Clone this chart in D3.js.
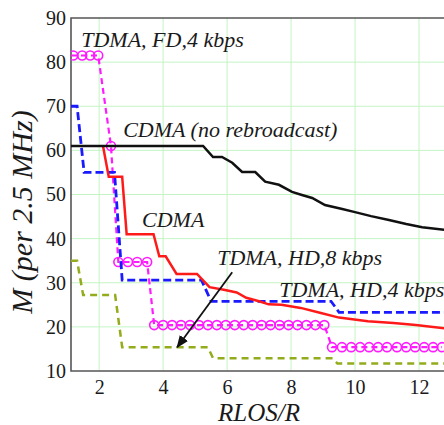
<html>
  <script src='https://d3js.org/d3.v7.min.js'></script>
  <style>
    body {margin: 0; background: white;}
    text {font-family: 'Liberation Serif', 'Times New Roman', serif; fill: #1a1a1a;}
    .lbl {font-style: italic;}
  </style>
  <body>
    <svg class="chart" width=444 height=425></svg>
    <script>
      // values
      var xTicks = [2, 4, 6, 8, 10, 12]
      var yTicks = [10, 20, 30, 40, 50, 60, 70, 80, 90]

      var cdmaNoRebroadcast = [[1.12,61],[5.25,61],[5.56,58.5],[5.84,58.5],[6.16,57.2],[6.47,55.1],[6.88,55.1],
        [7.19,52.9],[7.62,52.2],[8.03,50.6],[8.34,49.9],[8.66,49.2],[9.06,47.6],[9.6,46.7],[10,46],
        [10.5,45.1],[11.06,44.2],[11.6,43.3],[12.1,42.6],[12.8,42]]
      var cdma = [[2.12,61],[2.3,54],[2.72,54],[2.86,41],[3.7,41],[3.88,36],[4.08,36],[4.42,32],[5.06,32],
        [5.45,29],[5.9,28.4],[6.3,27.8],[6.6,26.6],[7.0,25.8],[7.3,25.1],[7.7,25],[8.3,24.3],[8.9,23.2],
        [9.5,22.1],[10.4,21.3],[11.2,20.9],[11.9,20.4],[12.8,19.7]]
      var tdmaHd4 = [[1.12,70],[1.31,70],[1.53,55],[2.48,55],[2.72,30.6],[5.2,30.6],[5.5,25.8],[9.25,25.8],
        [9.5,23.3],[12.8,23.3]]
      var tdmaHd8 = [[1.12,35],[1.31,35],[1.5,27.2],[2.5,27.2],[2.72,15.4],[5.4,15.4],[5.56,12.9],[9.3,12.9],
        [9.45,11.7],[12.8,11.7]]
      var tdmaFd4 = [[1.12,81.5],[1.19,81.5],[1.47,81.5],[1.72,81.5],[1.97,81.5],[2.37,61],[2.6,34.7],[2.9,34.7],
        [3.19,34.7],[3.5,34.7],[3.72,20.4],[4.0,20.4],[4.28,20.4],[4.56,20.4],[4.84,20.4],[5.12,20.4],
        [5.4,20.4],[5.68,20.4],[5.96,20.4],[6.24,20.4],[6.52,20.4],[6.8,20.4],[7.08,20.4],[7.36,20.4],
        [7.64,20.4],[7.92,20.4],[8.2,20.4],[8.48,20.4],[8.76,20.4],[9.04,20.4],[9.28,15.4],[9.59,15.4],
        [9.88,15.4],[10.16,15.4],[10.44,15.4],[10.72,15.4],[11.0,15.4],[11.31,15.4],[11.6,15.4],
        [11.88,15.4],[12.16,15.4],[12.44,15.4],[12.72,15.4]]

      var labels = [
        {text: "TDMA, FD,4 kbps", x: 1.44, y: 83.4},
        {text: "CDMA (no rebroadcast)", x: 2.75, y: 63.0},
        {text: "CDMA", x: 3.34, y: 42.6},
        {text: "TDMA, HD,8 kbps", x: 5.69, y: 34.0},
        {text: "TDMA, HD,4 kbps", x: 7.63, y: 26.8}
      ]
      var arrow = [[6.16,32.4],[4.44,15.4]]

      var plotLeft = 71, plotTop = 18, plotBottom = 371
      var serif = "'Liberation Serif', 'Times New Roman', serif"

      var x = d3.scaleLinear().domain([1.12, 13]).range([plotLeft, 451])
      var y = d3.scaleLinear().domain([10, 90]).range([plotBottom, plotTop])

      var svg = d3.select('.chart')

      svg.append("defs").append("clipPath").attr("id", "clip")
        .append("rect").attr("x", plotLeft).attr("y", plotTop)
        .attr("width", 444 - plotLeft).attr("height", plotBottom - plotTop)

      svg.append("defs").append("marker")
        .attr("id", "head").attr("viewBox", "0 0 10 10").attr("refX", 9).attr("refY", 5)
        .attr("markerWidth", 7).attr("markerHeight", 7).attr("orient", "auto")
        .append("path").attr("d", "M0,1 L10,5 L0,9 z").attr("fill", "#111")

      // grid
      svg.append("g").selectAll("line").data(xTicks).enter().append("line")
        .attr("x1", function(d) {return x(d)}).attr("x2", function(d) {return x(d)})
        .attr("y1", plotTop).attr("y2", plotBottom)
        .attr("stroke", "#c4f4c4").attr("stroke-width", 1)
      svg.append("g").selectAll("line").data(yTicks.slice(1, -1)).enter().append("line")
        .attr("y1", function(d) {return y(d)}).attr("y2", function(d) {return y(d)})
        .attr("x1", plotLeft).attr("x2", 444)
        .attr("stroke", "#c4f4c4").attr("stroke-width", 1)

      // axes
      var xAxis = d3.axisBottom(x).tickValues(xTicks).tickSize(0).tickPadding(9)
      var gx = svg.append("g").attr("transform", "translate(0," + plotBottom + ")").call(xAxis)
        .attr("font-family", serif).attr("font-size", 20)
      gx.select(".domain").remove()
      gx.selectAll("text").attr("fill", "#1a1a1a")

      var yAxis = d3.axisLeft(y).tickValues(yTicks).tickSize(0).tickPadding(5)
      var gy = svg.append("g").attr("transform", "translate(" + plotLeft + ",0)").call(yAxis)
        .attr("font-family", serif).attr("font-size", 20)
      gy.select(".domain").remove()
      gy.selectAll("text").attr("fill", "#1a1a1a")

      svg.append("path")
        .attr("d", "M444," + plotTop + "H" + plotLeft + "V" + plotBottom + "H444")
        .attr("fill", "none").attr("stroke", "#555").attr("stroke-width", 1.6)

      var line = d3.line().x(function(d) {return x(d[0])}).y(function(d) {return y(d[1])})
      var plot = svg.append("g").attr("clip-path", "url(#clip)")

      plot.append("path").datum(tdmaHd8).attr("d", line).attr("fill", "none")
        .attr("stroke", "#92ac1c").attr("stroke-width", 2.5).attr("stroke-dasharray", "7,5")
      plot.append("path").datum(tdmaFd4).attr("d", line).attr("fill", "none")
        .attr("stroke", "#ff1aff").attr("stroke-width", 2.2).attr("stroke-dasharray", "6,4")
      plot.selectAll("circle").data(tdmaFd4.slice(1)).enter().append("circle")
        .attr("cx", function(d) {return x(d[0])}).attr("cy", function(d) {return y(d[1])})
        .attr("r", 4.5).attr("fill", "none").attr("stroke", "#ff1aff").attr("stroke-width", 1.6)
      plot.append("path").datum(tdmaHd4).attr("d", line).attr("fill", "none")
        .attr("stroke", "#1a1aff").attr("stroke-width", 2.8).attr("stroke-dasharray", "8,4")
      plot.append("path").datum(cdma).attr("d", line).attr("fill", "none")
        .attr("stroke", "#ff1a1a").attr("stroke-width", 2.5)
      plot.append("path").datum(cdmaNoRebroadcast).attr("d", line).attr("fill", "none")
        .attr("stroke", "#111").attr("stroke-width", 2.5)

      // arrow for TDMA, HD,8 kbps
      svg.append("path").datum(arrow).attr("d", line).attr("stroke", "#111")
        .attr("stroke-width", 1.8).attr("marker-end", "url(#head)")

      svg.append("g").selectAll("text").data(labels).enter().append("text")
        .attr("class", "lbl")
        .attr("x", function(d) {return x(d.x)}).attr("y", function(d) {return y(d.y)})
        .style("font-size", "22px")
        .text(function(d) {return d.text})

      svg.append("text").attr("class", "lbl")
        .attr("x", 259).attr("y", 421).attr("text-anchor", "middle")
        .style("font-size", "25px").text("RLOS/R")

      svg.append("text").attr("class", "lbl")
        .attr("transform", "translate(32,212) rotate(-90)").attr("text-anchor", "middle")
        .style("font-size", "30px").text("M (per 2.5 MHz)")
    </script>
  </body>
</html>
